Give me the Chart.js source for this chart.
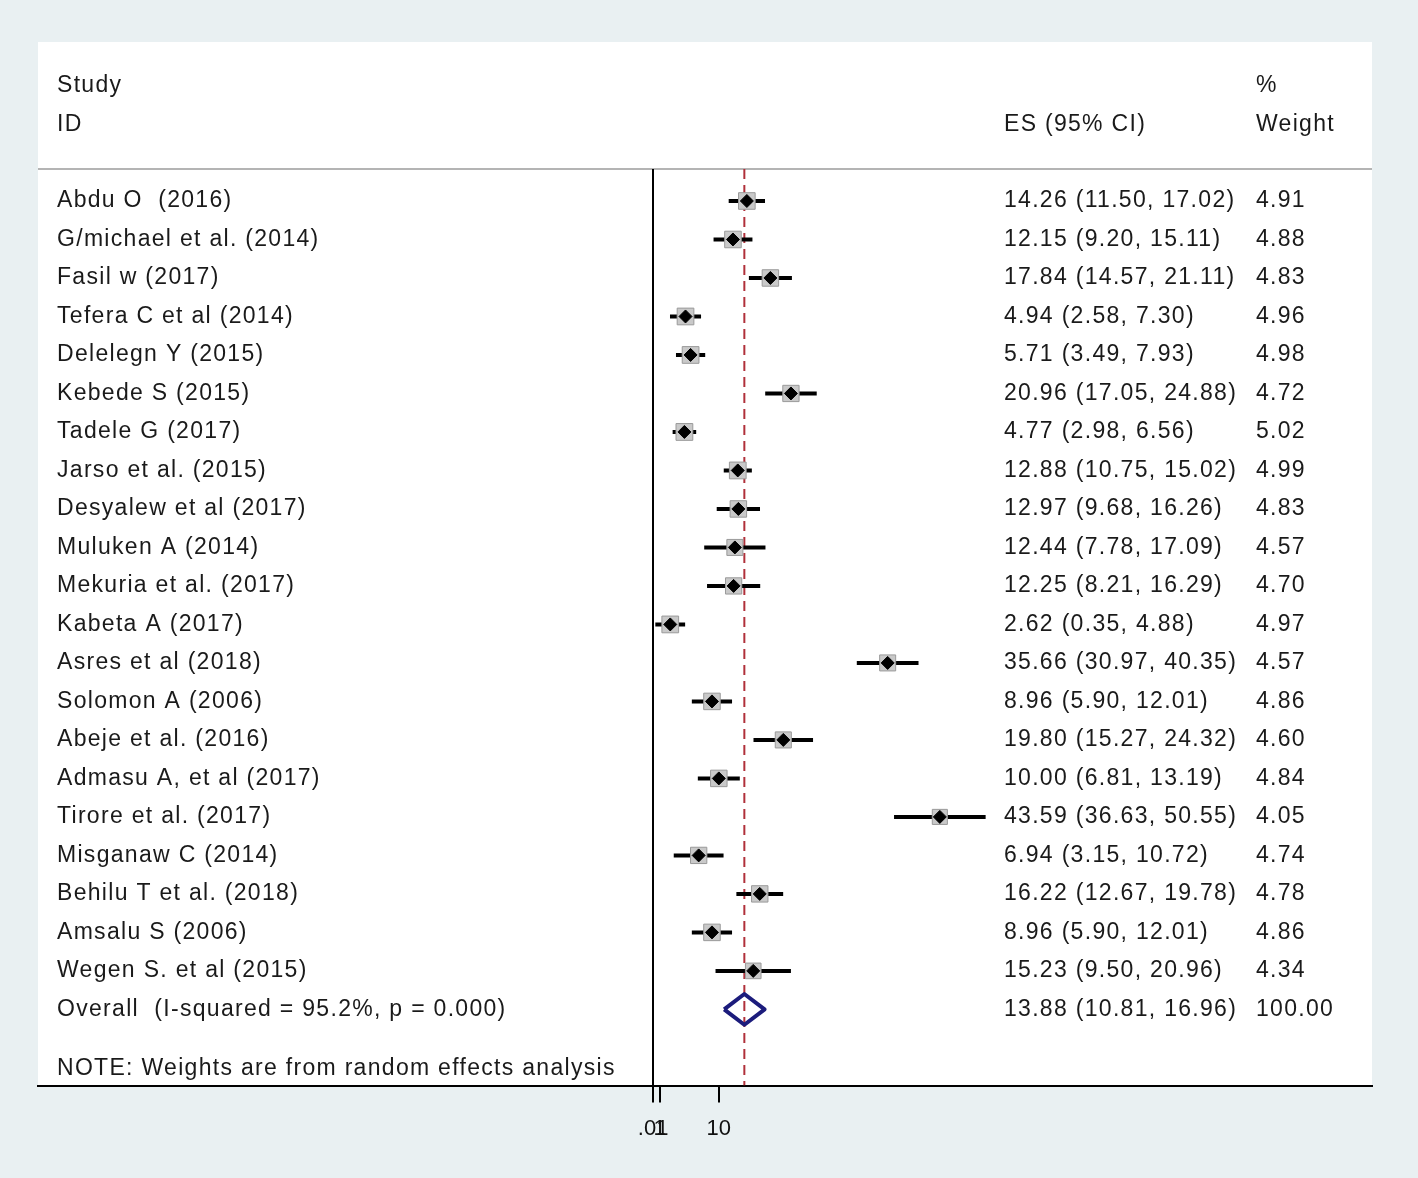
<!DOCTYPE html>
<html lang="en">
<head>
    <meta charset="UTF-8">
    <script src="https://cdn.jsdelivr.net/npm/chart.js"></script>
    <title>Forest plot</title>
    <style>
        html, body { margin: 0; padding: 0; background: #e9f0f2; }
        #wrap { width: 1418px; height: 1178px; }
    </style>
</head>
<body>
    <div id="wrap"><canvas id="forest"></canvas></div>

    <script>
        // study data
        const studies = ['Abdu O  (2016)', 'G/michael et al. (2014)', 'Fasil w (2017)', 'Tefera C et al (2014)',
            'Delelegn Y (2015)', 'Kebede S (2015)', 'Tadele G (2017)', 'Jarso et al. (2015)',
            'Desyalew et al (2017)', 'Muluken A (2014)', 'Mekuria et al. (2017)', 'Kabeta A (2017)',
            'Asres et al (2018)', 'Solomon A (2006)', 'Abeje et al. (2016)', 'Admasu A, et al (2017)',
            'Tirore et al. (2017)', 'Misganaw C (2014)', 'Behilu T et al. (2018)', 'Amsalu S (2006)',
            'Wegen S. et al (2015)'];
        const es = [14.26, 12.15, 17.84, 4.94, 5.71, 20.96, 4.77, 12.88, 12.97, 12.44, 12.25, 2.62,
            35.66, 8.96, 19.80, 10.00, 43.59, 6.94, 16.22, 8.96, 15.23];
        const lower = [11.50, 9.20, 14.57, 2.58, 3.49, 17.05, 2.98, 10.75, 9.68, 7.78, 8.21, 0.35,
            30.97, 5.90, 15.27, 6.81, 36.63, 3.15, 12.67, 5.90, 9.50];
        const upper = [17.02, 15.11, 21.11, 7.30, 7.93, 24.88, 6.56, 15.02, 16.26, 17.09, 16.29, 4.88,
            40.35, 12.01, 24.32, 13.19, 50.55, 10.72, 19.78, 12.01, 20.96];
        const weights = [4.91, 4.88, 4.83, 4.96, 4.98, 4.72, 5.02, 4.99, 4.83, 4.57, 4.70, 4.97,
            4.57, 4.86, 4.60, 4.84, 4.05, 4.74, 4.78, 4.86, 4.34];

        const overallLabel = 'Overall  (I-squared = 95.2%, p = 0.000)';
        const overallES = 13.88;
        const overallLower = 10.81;
        const overallUpper = 16.96;
        const overallWeight = 100.00;

        const xTicks = [0.01, 1, 10];
        const xTickLabels = ['.01', '1', '10'];

        // layout (row index on y axis)
        const overallRow = studies.length;
        const headerTop = -4.13, plotBottom = 22.98, sepRow = -0.83;
        const xMin = -93.47, xMax = 109.27;

        const textFont = '23px "Liberation Sans", Arial, sans-serif';
        const textColor = '#1a1a1a';

        const ciSets = studies.map((s, i) => ({
            type: 'line',
            data: [{ x: lower[i], y: i }, { x: upper[i], y: i }],
            borderColor: '#000',
            borderWidth: 4,
            pointRadius: 0,
            order: 2
        }));

        // background + text columns
        const forestText = {
            id: 'forestText',
            beforeDraw(chart) {
                const { ctx, chartArea: a } = chart;
                ctx.save();
                ctx.fillStyle = '#e9f0f2';
                ctx.fillRect(0, 0, chart.width, chart.height);
                ctx.fillStyle = '#fff';
                ctx.fillRect(a.left, a.top, a.right - a.left, a.bottom - a.top);
                const ys = chart.scales.y.getPixelForValue(sepRow);
                ctx.strokeStyle = '#b4b4b4';
                ctx.lineWidth = 2;
                ctx.beginPath();
                ctx.moveTo(a.left, ys);
                ctx.lineTo(a.right, ys);
                ctx.stroke();
                ctx.restore();
            },
            afterDraw(chart) {
                const { ctx } = chart;
                const y = chart.scales.y;
                ctx.save();
                ctx.font = textFont;
                ctx.fillStyle = textColor;
                ctx.textBaseline = 'middle';
                ctx.letterSpacing = '1.3px';
                const put = (t, x, row) => ctx.fillText(t, x, y.getPixelForValue(row));
                put('Study', 57, -3);
                put('ID', 57, -1.97);
                put('ES (95% CI)', 1004, -1.97);
                put('%', 1256, -3);
                put('Weight', 1256, -1.97);
                studies.forEach((s, i) => {
                    put(s, 57, i);
                    put(es[i].toFixed(2) + ' (' + lower[i].toFixed(2) + ', ' + upper[i].toFixed(2) + ')', 1004, i);
                    put(weights[i].toFixed(2), 1256, i);
                });
                put(overallLabel, 57, overallRow);
                put(overallES.toFixed(2) + ' (' + overallLower.toFixed(2) + ', ' + overallUpper.toFixed(2) + ')', 1004, overallRow);
                put(overallWeight.toFixed(2), 1256, overallRow);
                put('NOTE: Weights are from random effects analysis', 57, 22.53);
                ctx.restore();
            }
        };

        new Chart(document.getElementById('forest'), {
            type: 'scatter',
            data: {
                datasets: [
                    {
                        // point estimate
                        data: es.map((v, i) => ({ x: v, y: i })),
                        pointStyle: 'rectRot',
                        pointRadius: 6.5,
                        backgroundColor: '#000',
                        borderColor: '#000',
                        borderWidth: 1,
                        order: 0
                    },
                    {
                        // weight boxes
                        data: es.map((v, i) => ({ x: v, y: i })),
                        pointStyle: 'rect',
                        pointRadius: weights.map(w => 5.3 * Math.sqrt(w)),
                        backgroundColor: '#c9c9c9',
                        borderColor: '#9a9a9a',
                        borderWidth: 1,
                        order: 1
                    },
                    ...ciSets,
                    {
                        // overall diamond
                        type: 'line',
                        data: [
                            { x: overallLower, y: overallRow }, { x: overallES, y: overallRow - 0.4 },
                            { x: overallUpper, y: overallRow }, { x: overallES, y: overallRow + 0.4 },
                            { x: overallLower, y: overallRow }
                        ],
                        borderColor: '#1c1c7c',
                        borderWidth: 4,
                        borderJoinStyle: 'round',
                        pointRadius: 0,
                        order: 1
                    },
                    {
                        // null line
                        type: 'line',
                        data: [{ x: 0, y: sepRow }, { x: 0, y: plotBottom }],
                        borderColor: '#000',
                        borderWidth: 2,
                        pointRadius: 0,
                        order: 3
                    },
                    {
                        // overall effect line
                        type: 'line',
                        data: [{ x: overallES, y: sepRow }, { x: overallES, y: plotBottom }],
                        borderColor: '#b0303a',
                        borderWidth: 2,
                        borderDash: [10, 6],
                        pointRadius: 0,
                        order: 4
                    }
                ]
            },
            options: {
                responsive: true,
                maintainAspectRatio: false,
                animation: false,
                layout: { padding: { left: 38, right: 46, top: 42, bottom: 23 } },
                plugins: { legend: { display: false }, tooltip: { enabled: false } },
                scales: {
                    x: {
                        type: 'linear',
                        min: xMin,
                        max: xMax,
                        afterBuildTicks: s => { s.ticks = xTicks.map(v => ({ value: v })); },
                        ticks: {
                            autoSkip: false,
                            maxRotation: 0,
                            padding: 13,
                            color: '#111',
                            font: { family: '"Liberation Sans", Arial, sans-serif', size: 22 },
                            callback: (v) => xTickLabels[xTicks.indexOf(v)]
                        },
                        grid: {
                            drawOnChartArea: false,
                            drawTicks: true,
                            tickLength: 17,
                            color: '#000',
                            lineWidth: 2
                        },
                        border: { display: true, color: '#000', width: 2 }
                    },
                    y: {
                        type: 'linear',
                        display: false,
                        reverse: true,
                        min: headerTop,
                        max: plotBottom
                    }
                }
            },
            plugins: [forestText]
        });
    </script>
</body>
</html>
